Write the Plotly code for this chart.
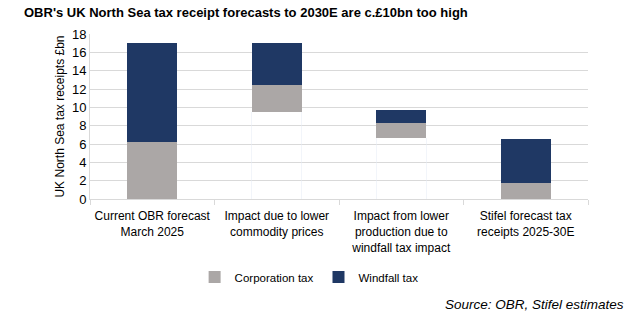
import plotly.graph_objects as go

categories = ["Current OBR forecast<br>March 2025",
              "Impact due to lower<br>commodity prices",
              "Impact from lower<br>production due to<br>windfall tax impact",
              "Stifel forecast tax<br>receipts 2025-30E"]
base = [0, 9.5, 6.7, 0]
corporation_tax = [6.2, 2.9, 1.6, 1.7]
windfall_tax = [10.8, 4.6, 1.4, 4.8]
y_ticks = list(range(0, 19, 2))

FONT = "Liberation Sans, Arial, sans-serif"
NAVY = "#1f3864"
GREY = "#aba7a6"
GRID = "#d9d9d9"

fig = go.Figure()
fig.add_trace(go.Bar(x=categories, y=base, marker_color="rgba(0,0,0,0)",
                     showlegend=False, hoverinfo="skip"))
fig.add_trace(go.Bar(x=categories, y=corporation_tax, name="Corporation tax",
                     marker_color=GREY, marker_line_width=0))
fig.add_trace(go.Bar(x=categories, y=windfall_tax, name="Windfall tax",
                     marker_color=NAVY, marker_line_width=0))

fig.update_layout(
    width=634, height=326,
    margin=dict(l=90, r=46, t=34, b=127),
    barmode="stack", bargap=0.6,
    plot_bgcolor="white", paper_bgcolor="white",
    font=dict(family=FONT, size=12, color="#000000"),
    showlegend=True,
    legend=dict(orientation="h", x=0.44, xanchor="center", y=-0.473, yanchor="middle",
                traceorder="normal", font=dict(size=11.5), itemwidth=30),
)
fig.add_annotation(text="<b>OBR's UK North Sea tax receipt forecasts to 2030E are c.£10bn too high</b>",
                   xref="paper", yref="paper", x=(22 - 90) / 498, y=1.133,
                   xanchor="left", yanchor="middle", showarrow=False,
                   font=dict(size=13, family=FONT))
fig.add_annotation(text="<i>Source: OBR, Stifel estimates</i>", xref="paper", yref="paper",
                   x=(626 - 90) / 498, y=-0.642, xanchor="right", yanchor="middle",
                   showarrow=False, font=dict(size=13.5, family=FONT))
fig.update_xaxes(showline=True, linecolor=GRID, tickson="boundaries", ticks="outside",
                 ticklen=5, tickcolor=GRID, tickfont=dict(size=12), tickangle=0,
                 ticklabelstandoff=6)
fig.update_yaxes(range=[0, 18], tickvals=y_ticks, showgrid=True, gridcolor=GRID,
                 showline=True, linecolor=GRID, zeroline=False, tickfont=dict(size=13),
                 title=dict(text="UK North Sea tax receipts £bn", font=dict(size=12), standoff=4))

fig.write_html("out.html")
